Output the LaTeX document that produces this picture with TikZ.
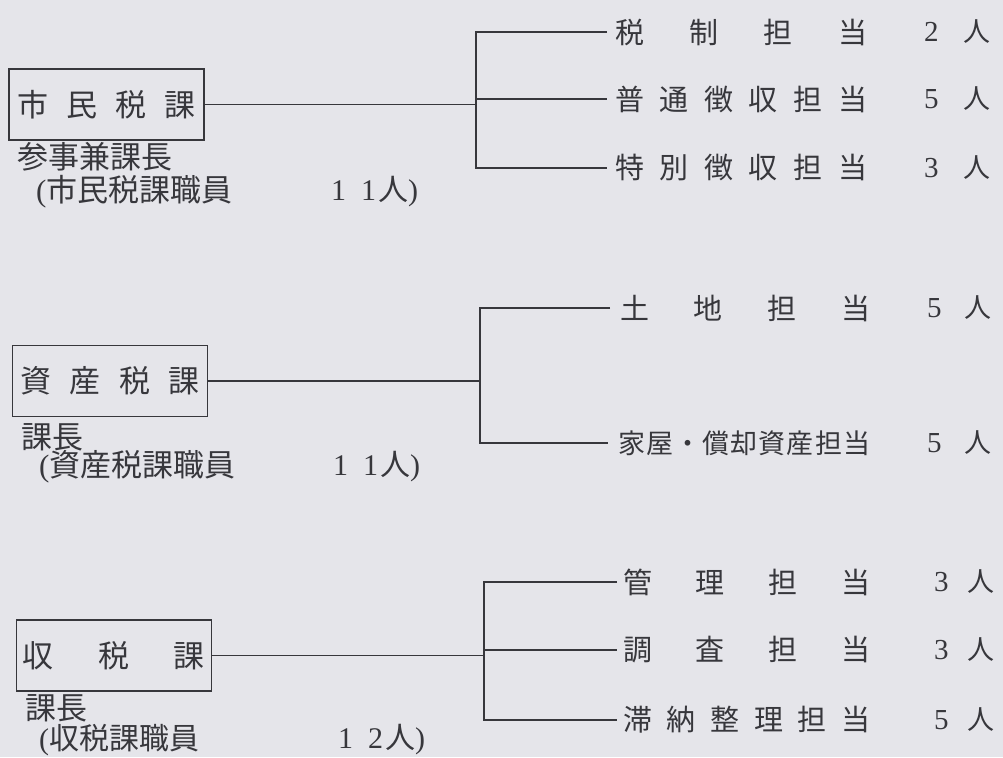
\documentclass[tikz,border=0pt]{standalone}
\usepackage{fontspec}
\setmainfont{Liberation Serif}
\newfontfamily\cjk{Noto Sans CJK JP}
\definecolor{bg}{RGB}{229,229,234}
\definecolor{ink}{RGB}{55,55,60}
\newcommand{\spr}[2]{\makebox[#1][s]{#2}}
\newcommand{\cnttext}[2]{\makebox[#1][s]{#2\hfill{\cjk\fontsize{27}{27}\selectfont 人}}}
\begin{document}
\begin{tikzpicture}[x=1pt,y=-1pt,
  box/.style={draw=ink, line width=1.9pt, minimum width=195pt, minimum height=71pt, inner sep=0pt, text=ink, font=\cjk\fontsize{31}{31}\selectfont},
  lbl/.style={anchor=west, inner sep=0pt, text=ink, font=\cjk\fontsize{29}{29}\selectfont},
  cnt/.style={anchor=west, inner sep=0pt, text=ink, font=\fontsize{29}{29}\selectfont},
  sub/.style={anchor=west, inner sep=0pt, text=ink, font=\cjk\fontsize{31}{31}\selectfont},
  num/.style={anchor=west, inner sep=0pt, text=ink, font=\fontsize{30}{30}\selectfont},
  link/.style={draw=ink, line width=1.8pt}]
\fill[bg] (0,0) rectangle (1003,757);
\useasboundingbox (0,0) rectangle (1003,757);

% ---------- group 1
\node[box] (b1) at (106.5,104.5) {\spr{179pt}{市\hfill 民\hfill 税\hfill 課}};
\node[sub] (s1a) at (17,157) {参事兼課長};
\node[sub] (s1b) at (36,192) {{\rmfamily(}市民税課職員};
\node[num] (s1c) at (331,192) {1\hspace{15pt}1\hspace{2pt}{\cjk 人}{\rmfamily)}};
\coordinate (k1t) at (476,32);
\coordinate (k1b) at (476,168);
\node[lbl] (l1a) at (615,32) {\spr{252pt}{税\hfill 制\hfill 担\hfill 当}};
\node[lbl] (l1b) at (615,99) {\spr{252pt}{普\hfill 通\hfill 徴\hfill 収\hfill 担\hfill 当}};
\node[lbl] (l1c) at (615,168) {\spr{252pt}{特\hfill 別\hfill 徴\hfill 収\hfill 担\hfill 当}};
\node[cnt] (c1a) at (924,32) {\cnttext{66pt}{2}};
\node[cnt] (c1b) at (924,99) {\cnttext{66pt}{5}};
\node[cnt] (c1c) at (924,168) {\cnttext{66pt}{3}};
\draw[link] (b1.east) -- (b1.east -| k1t);
\draw[link] ([xshift=-8pt]l1a.west) -- (k1t) -- (k1b) -- ([xshift=-8pt]l1c.west);
\draw[link] (l1b.west -| k1t) -- ([xshift=-8pt]l1b.west);

% ---------- group 2
\node[box] (b2) at (110,381) {\spr{180pt}{資\hfill 産\hfill 税\hfill 課}};
\node[sub] (s2a) at (21,437) {課長};
\node[sub] (s2b) at (39,467) {{\rmfamily(}資産税課職員};
\node[num] (s2c) at (333,467) {1\hspace{15pt}1\hspace{2pt}{\cjk 人}{\rmfamily)}};
\coordinate (k2t) at (480,308);
\coordinate (k2b) at (480,443);
\node[lbl] (l2a) at (620,308) {\spr{250pt}{土\hfill 地\hfill 担\hfill 当}};
\node[lbl, font=\cjk\fontsize{27}{27}\selectfont] (l2b) at (618,443) {\spr{252pt}{家\hfill 屋\hfill ・\hfill 償\hfill 却\hfill 資\hfill 産\hfill 担\hfill 当}};
\node[cnt] (c2a) at (927,308) {\cnttext{64pt}{5}};
\node[cnt] (c2b) at (927,443) {\cnttext{64pt}{5}};
\draw[link] (b2.east) -- (b2.east -| k2t);
\draw[link] ([xshift=-10pt]l2a.west) -- (k2t) -- (k2b) -- ([xshift=-10pt]l2b.west);

% ---------- group 3
\node[box] (b3) at (114,655.5) {\spr{182pt}{収\hfill 税\hfill 課}};
\node[sub] (s3a) at (25,708) {課長};
\node[sub, font=\cjk\fontsize{30}{30}\selectfont] (s3b) at (39,740) {{\rmfamily(}収税課職員};
\node[num] (s3c) at (338,740) {1\hspace{15pt}2\hspace{2pt}{\cjk 人}{\rmfamily)}};
\coordinate (k3t) at (484,582);
\coordinate (k3b) at (484,720);
\node[lbl] (l3a) at (623,582) {\spr{247pt}{管\hfill 理\hfill 担\hfill 当}};
\node[lbl] (l3b) at (623,650) {\spr{247pt}{調\hfill 査\hfill 担\hfill 当}};
\node[lbl] (l3c) at (623,720) {\spr{247pt}{滞\hfill 納\hfill 整\hfill 理\hfill 担\hfill 当}};
\node[cnt] (c3a) at (934,582) {\cnttext{60pt}{3}};
\node[cnt] (c3b) at (934,650) {\cnttext{60pt}{3}};
\node[cnt] (c3c) at (934,720) {\cnttext{60pt}{5}};
\draw[link] (b3.east) -- (b3.east -| k3t);
\draw[link] ([xshift=-6pt]l3a.west) -- (k3t) -- (k3b) -- ([xshift=-6pt]l3c.west);
\draw[link] (l3b.west -| k3t) -- ([xshift=-6pt]l3b.west);
\end{tikzpicture}
\end{document}
